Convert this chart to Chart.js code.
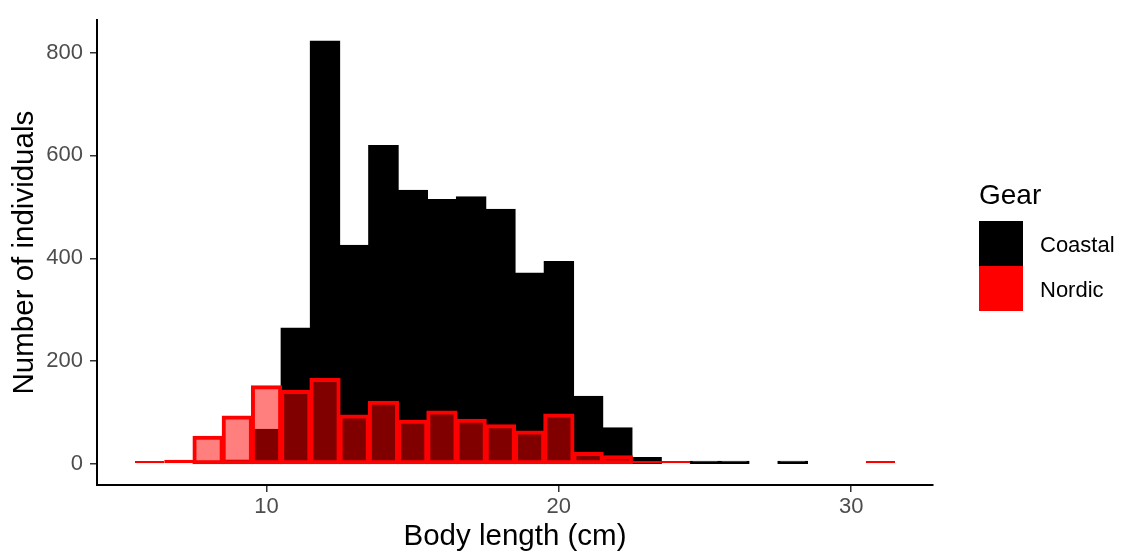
<!DOCTYPE html>
<html>
<head>
<meta charset="utf-8">
<title>Body length by gear</title>
<script src="https://cdn.jsdelivr.net/npm/chart.js@4.4.1/dist/chart.umd.min.js"></script>
<style>
  html, body { margin: 0; padding: 0; background: #fff; }
  #wrap { width: 1133px; height: 555px; }
</style>
</head>
<body>
<div id="wrap"><canvas id="lengthChart" width="1133" height="555"></canvas></div>
<script>
// 1 cm bins, centred on whole centimetres
const lengthBins    = [6, 7, 8, 9, 10, 11, 12, 13, 14, 15, 16, 17, 18, 19, 20, 21, 22, 23, 24, 25, 26, 27, 28, 29, 30, 31];
const coastalCounts = [null, null, 1, 7, 67, 264, 822, 425, 619, 532, 514, 519, 495, 371, 393, 131, 70, 12, null, 2, 3, null, 3, null, null, null];
const nordicCounts  = [2, 8, 53, 92, 151, 142, 165, 94, 121, 84, 102, 86, 75, 63, 96, 21, 15, 4, 3, null, null, null, null, null, null, 2];

const gearNames  = ["Coastal", "Nordic"];
const keyColors  = ["#000000", "#ff0000"];
const xTicks     = [10, 20, 30];
const yTicks     = [0, 200, 400, 600, 800];

const FONT = "'Liberation Sans', Arial, sans-serif";

// turn bins + counts into {x, y} points, skipping empty bins
function toPoints(counts) {
  const pts = [];
  lengthBins.forEach((b, i) => {
    if (counts[i] !== null) pts.push({ x: b, y: counts[i] });
  });
  return pts;
}

// outline straddles the bar edge, except on the very short bars
// (inflating those punches a pale hole in the middle of the outline)
function outlineInflate(c) {
  return c.raw && c.raw.y < 10 ? 0 : 1;
}

// legend on the right, drawn like a ggplot guide
const gearLegend = {
  id: "gearLegend",
  afterDraw(chart) {
    const ctx = chart.ctx;
    const x0 = 979, keyTop = 221, keyW = 44, keyH = 45;
    ctx.save();
    ctx.textBaseline = "alphabetic";
    ctx.textAlign = "left";
    ctx.fillStyle = "#000";
    ctx.font = `28px ${FONT}`;
    ctx.fillText("Gear", x0, 204);
    ctx.font = `22px ${FONT}`;
    gearNames.forEach((name, i) => {
      const y = keyTop + i * keyH;
      ctx.fillStyle = keyColors[i];
      ctx.fillRect(x0, y, keyW, keyH);
      ctx.fillStyle = "#000";
      ctx.fillText(name, 1040, y + 31);
    });
    ctx.restore();
  }
};

const ctx = document.getElementById("lengthChart");
new Chart(ctx, {
  type: "bar",
  data: {
    datasets: [
      {
        label: gearNames[0],
        data: toPoints(coastalCounts),
        backgroundColor: "#000000",
        borderColor: "#000000",
        borderWidth: 1.5,
        inflateAmount: 0.75,
        borderSkipped: false,
        minBarLength: 2.5,
        grouped: false,
        barPercentage: 1,
        categoryPercentage: 1,
        order: 1
      },
      {
        label: gearNames[1],
        data: toPoints(nordicCounts),
        backgroundColor: "rgba(255, 0, 0, 0.5)",
        borderColor: "#ff0000",
        borderWidth: 2,
        inflateAmount: outlineInflate,
        borderSkipped: false,
        minBarLength: 3,
        grouped: false,
        barPercentage: 1,
        categoryPercentage: 1,
        order: 0
      }
    ]
  },
  options: {
    responsive: false,
    devicePixelRatio: 1,
    animation: false,
    layout: { padding: { left: 0, top: 6, right: 200, bottom: 0 } },
    plugins: {
      legend: { display: false },
      tooltip: { enabled: false }
    },
    scales: {
      x: {
        type: "linear",
        min: 4.2,
        max: 32.8,
        offset: false,
        afterBuildTicks: (axis) => { axis.ticks = xTicks.map(v => ({ value: v })); },
        afterFit: (axis) => { axis.height = 70; },
        grid: { display: true, drawOnChartArea: false, offset: false, tickLength: 7, color: "#333333", lineWidth: 1.5 },
        border: { display: true, color: "#000000", width: 2 },
        ticks: { color: "#4d4d4d", font: { family: FONT, size: 22 }, padding: 2, maxRotation: 0 },
        title: { display: true, text: "Body length (cm)", color: "#000", font: { family: FONT, size: 29.5 }, padding: { top: 0, bottom: 0 } }
      },
      y: {
        min: -41,
        max: 863,
        afterBuildTicks: (axis) => { axis.ticks = yTicks.map(v => ({ value: v })); },
        afterFit: (axis) => { axis.width = 97; },
        grid: { display: true, drawOnChartArea: false, tickLength: 7, color: "#333333", lineWidth: 1.5 },
        border: { display: true, color: "#000000", width: 2 },
        ticks: { color: "#4d4d4d", font: { family: FONT, size: 22 }, padding: 7 },
        title: { display: true, text: "Number of individuals", color: "#000", font: { family: FONT, size: 29.5 }, padding: { top: 7, bottom: 0 } }
      }
    }
  },
  plugins: [gearLegend]
});
</script>
</body>
</html>
